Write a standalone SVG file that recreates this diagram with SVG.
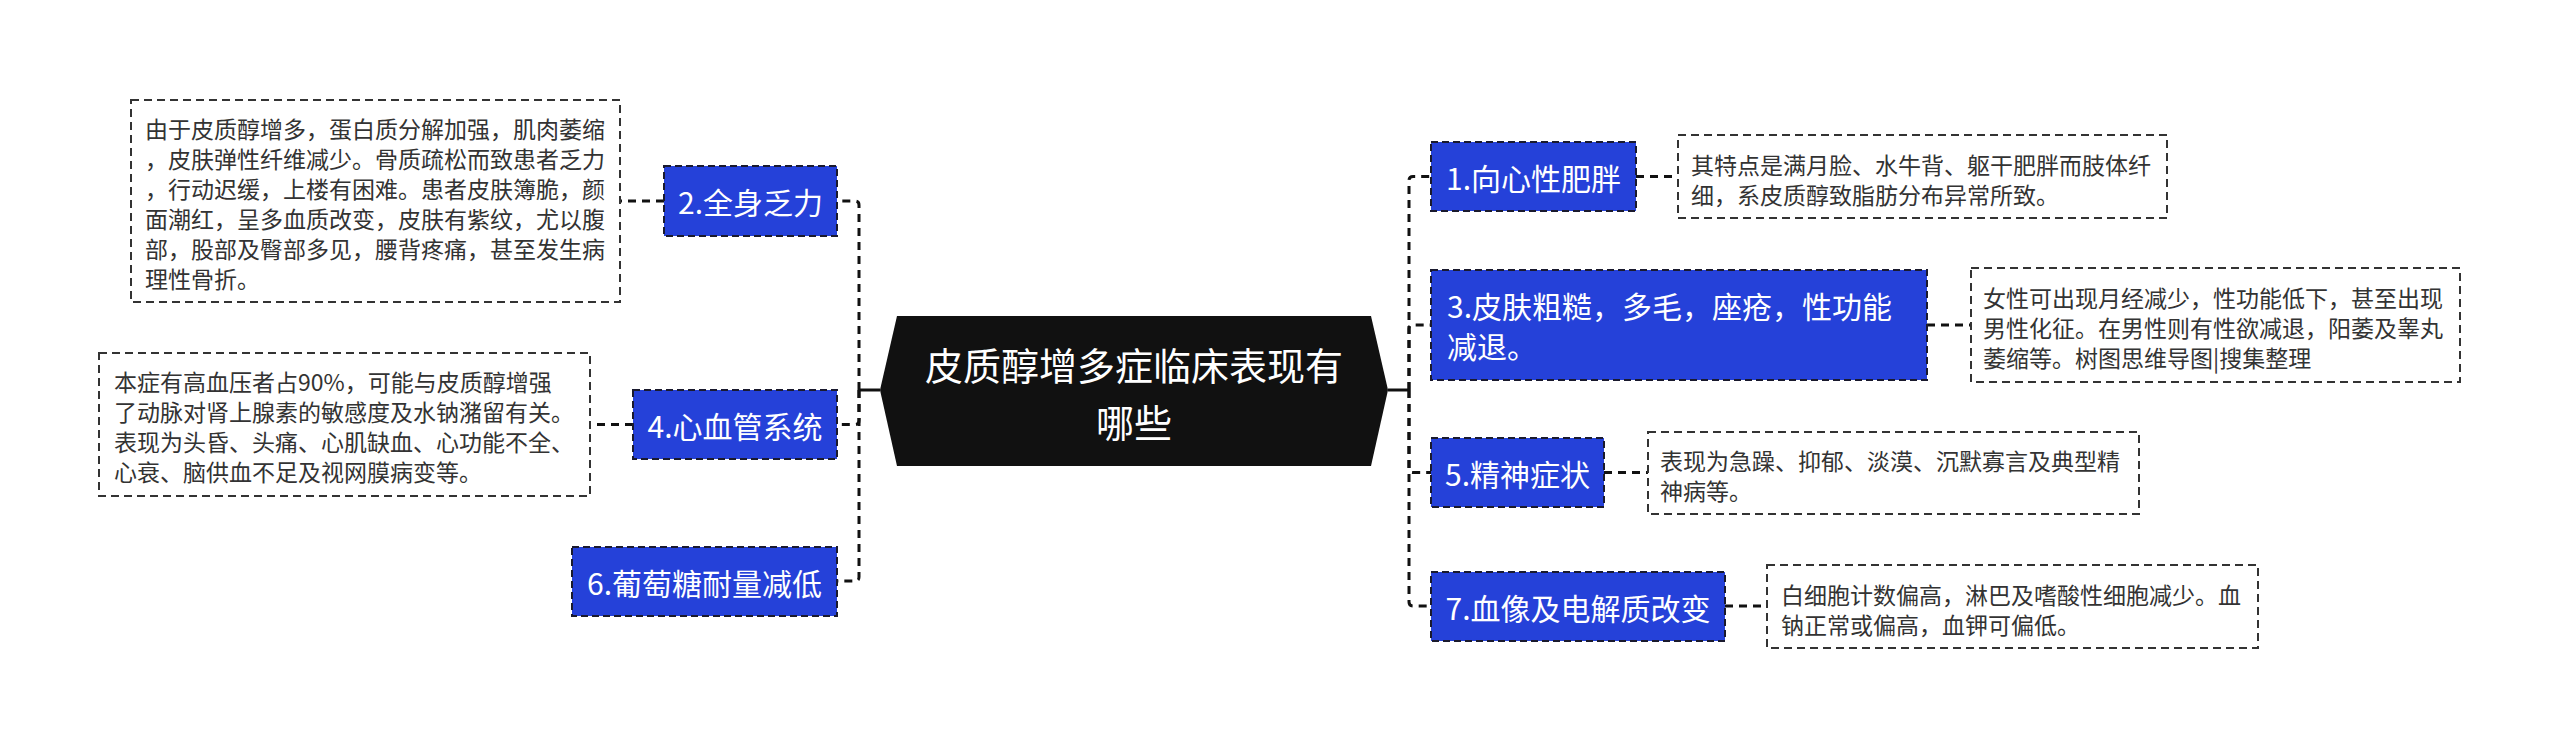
<svg xmlns="http://www.w3.org/2000/svg" width="2560" height="748" viewBox="0 0 2560 748">
<style>
text{font-family:"Noto Sans CJK SC","Noto Sans",sans-serif;dominant-baseline:central}
.node rect{fill:#2541d9;stroke:#1a1a2e;stroke-width:2;stroke-dasharray:7 4}
.node text{fill:#fff;font-size:30px}
.detail rect{fill:#fff;stroke:#333;stroke-width:2;stroke-dasharray:8 5}
.detail text{fill:#333;font-size:23px}
.conn path{fill:none;stroke:#111;stroke-width:3;stroke-dasharray:8 6}
.conn line{stroke:#111;stroke-width:3}
</style>
<rect width="2560" height="748" fill="#fff"/>
<g class="conn" id="connectors">
<line x1="880" y1="390" x2="859" y2="390"/>
<line x1="1388" y1="390" x2="1409" y2="390"/>
<path d="M859,390 V205 Q859,201 855,201 H837"/>
<path d="M859,390 V420.5 Q859,424.5 855,424.5 H837"/>
<path d="M859,390 V577 Q859,581 855,581 H837"/>
<path d="M1409,390 V180.5 Q1409,176.5 1413,176.5 H1431"/>
<path d="M1409,390 V329 Q1409,325 1413,325 H1431"/>
<path d="M1409,390 V468.5 Q1409,472.5 1413,472.5 H1431"/>
<path d="M1409,390 V602 Q1409,606 1413,606 H1431"/>
<path d="M664,201 H620"/>
<path d="M633,424.5 H590"/>
<path d="M1636,176.5 H1678"/>
<path d="M1927,325 H1971"/>
<path d="M1604,472.5 H1648"/>
<path d="M1725,606 H1767"/>
</g>
<g id="center">
<polygon points="880,390 897,316 1371,316 1388,390 1371,466 897,466" fill="#111"/>
<text x="1134" y="363" text-anchor="middle" fill="#fff" font-size="38">皮质醇增多症临床表现有</text>
<text x="1134" y="420" text-anchor="middle" fill="#fff" font-size="38">哪些</text>
</g>
<g class="node" id="n2"><rect x="664" y="166" width="173" height="70"/><text x="750.5" y="201" text-anchor="middle">2.全身乏力</text></g>
<g class="node" id="n4"><rect x="633" y="390" width="204" height="69"/><text x="735" y="424.5" text-anchor="middle">4.心血管系统</text></g>
<g class="node" id="n6"><rect x="572" y="547" width="265" height="69"/><text x="704.5" y="581.5" text-anchor="middle">6.葡萄糖耐量减低</text></g>
<g class="node" id="n1"><rect x="1431" y="142" width="205" height="69"/><text x="1533.5" y="176.5" text-anchor="middle">1.向心性肥胖</text></g>
<g class="node" id="n3"><rect x="1431" y="270" width="496" height="110"/><text x="1447" y="305">3.皮肤粗糙，多毛，座疮，性功能</text><text x="1447" y="345">减退。</text></g>
<g class="node" id="n5"><rect x="1431" y="438" width="173" height="69"/><text x="1517.5" y="472.5" text-anchor="middle">5.精神症状</text></g>
<g class="node" id="n7"><rect x="1431" y="572" width="294" height="69"/><text x="1578" y="606.5" text-anchor="middle">7.血像及电解质改变</text></g>
<g class="detail" id="d2"><rect x="131" y="100" width="489" height="202"/>
<text x="145" y="128">由于皮质醇增多，蛋白质分解加强，肌肉萎缩</text>
<text x="145" y="158">，皮肤弹性纤维减少。骨质疏松而致患者乏力</text>
<text x="145" y="188">，行动迟缓，上楼有困难。患者皮肤簿脆，颜</text>
<text x="145" y="218">面潮红，呈多血质改变，皮肤有紫纹，尤以腹</text>
<text x="145" y="248">部，股部及臀部多见，腰背疼痛，甚至发生病</text>
<text x="145" y="278">理性骨折。</text>
</g>
<g class="detail" id="d4"><rect x="99" y="353" width="491" height="143"/>
<text x="114" y="381">本症有高血压者占90%，可能与皮质醇增强</text>
<text x="114" y="411">了动脉对肾上腺素的敏感度及水钠潴留有关。</text>
<text x="114" y="441">表现为头昏、头痛、心肌缺血、心功能不全、</text>
<text x="114" y="471">心衰、脑供血不足及视网膜病变等。</text>
</g>
<g class="detail" id="d1"><rect x="1678" y="135" width="489" height="83"/>
<text x="1691" y="163.5">其特点是满月脸、水牛背、躯干肥胖而肢体纤</text>
<text x="1691" y="193.5">细，系皮质醇致脂肪分布异常所致。</text>
</g>
<g class="detail" id="d3"><rect x="1971" y="268" width="489" height="114"/>
<text x="1983" y="297">女性可出现月经减少，性功能低下，甚至出现</text>
<text x="1983" y="327">男性化征。在男性则有性欲减退，阳萎及睾丸</text>
<text x="1983" y="357">萎缩等。树图思维导图|搜集整理</text>
</g>
<g class="detail" id="d5"><rect x="1648" y="432" width="491" height="82"/>
<text x="1660" y="460">表现为急躁、抑郁、淡漠、沉默寡言及典型精</text>
<text x="1660" y="490">神病等。</text>
</g>
<g class="detail" id="d7"><rect x="1767" y="565" width="491" height="83"/>
<text x="1781" y="593.5">白细胞计数偏高，淋巴及嗜酸性细胞减少。血</text>
<text x="1781" y="623.5">钠正常或偏高，血钾可偏低。</text>
</g>
</svg>
